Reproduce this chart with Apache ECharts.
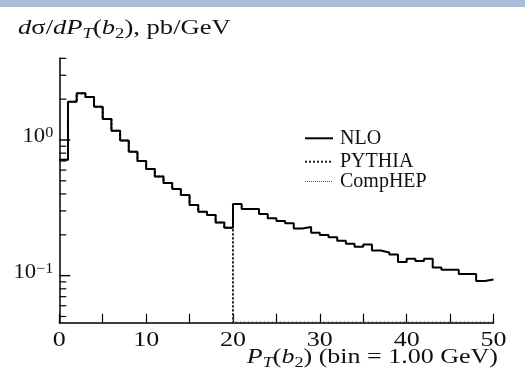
<!DOCTYPE html>
<html>
<head>
<meta charset="utf-8">
<script src="https://cdn.jsdelivr.net/npm/echarts@6/dist/echarts.min.js"></script>
<style>
html,body{margin:0;padding:0;background:#fff;}
#c{width:525px;height:383px;}
</style>
</head>
<body>
<div id="c"></div>
<script>
// ---- data ----
const binEdges = [0,1,2,3,4,5,6,7,8,9,10,11,12,13,14,15,16,17,18,19,20,21,22,23,24,25,26,27,28,29,30,31,32,33,34,35,36,37,38,39,40,41,42,43,44,45,46,47,48,49,50];
const nlo = [0.716, 1.91, 2.21, 2.07, 1.76, 1.43, 1.17, 0.99, 0.82, 0.70,
             0.61, 0.538, 0.482, 0.435, 0.393, 0.332, 0.296, 0.280, 0.246, 0.225,
             0.3375, 0.310, 0.310, 0.285, 0.265, 0.253, 0.243, 0.223, 0.2285, 0.2075,
             0.1995, 0.192, 0.181, 0.172, 0.1636, 0.170, 0.153, 0.148, 0.143, 0.126,
             0.133, 0.128, 0.133, 0.115, 0.1107, 0.1107, 0.103, 0.103, 0.0914, 0.0935];
const pythia = [0.716, 1.91, 2.21, 2.07, 1.76, 1.43, 1.17, 0.99, 0.82, 0.70,
             0.61, 0.538, 0.482, 0.435, 0.393, 0.332, 0.296, 0.280, 0.246, 0.225,
             0, 0, 0, 0, 0, 0, 0, 0, 0, 0,
             0, 0, 0, 0, 0, 0, 0, 0, 0, 0,
             0, 0, 0, 0, 0, 0, 0, 0, 0, 0];
const comphep = [0.716, 1.91, 2.21, 2.07, 1.76, 1.43, 1.17, 0.99, 0.82, 0.70,
             0.61, 0.538, 0.482, 0.435, 0.393, 0.332, 0.296, 0.280, 0.246, 0.225,
             0, 0, 0, 0, 0, 0, 0, 0, 0, 0,
             0, 0, 0, 0, 0, 0, 0, 0, 0, 0,
             0, 0, 0, 0, 0, 0, 0, 0, 0, 0];
const seriesNames = ['NLO', 'PYTHIA', 'CompHEP'];
const xTickLabels = [0, 10, 20, 30, 40, 50];
const yMajorTicks = [0.1, 1];
const yMajorExp = ['\u22121', '0'];
const yMinorTicks = [0.05,0.06,0.07,0.08,0.09,0.2,0.3,0.4,0.5,0.6,0.7,0.8,0.9,2,3,4];
const xMin = 0, xMax = 50, xInterval = 10;
const yMin = 0.045, yMax = 4;

// ---- build ----
const FONT = '"Liberation Serif", "Times New Roman", serif';
function stepData(vals){
  const d = vals.map((v,i)=>[binEdges[i], v > 0 ? v : yMin]);
  d.push([binEdges[vals.length], vals[vals.length-1] > 0 ? vals[vals.length-1] : yMin]);
  return d;
}
const richSub = {
  i:{fontFamily:FONT, fontStyle:'italic', fontSize:20, fill:'#111', lineHeight:24},
  r:{fontFamily:FONT, fontSize:20, fill:'#111', lineHeight:24},
  is:{fontFamily:FONT, fontStyle:'italic', fontSize:14, fill:'#111', verticalAlign:'bottom', lineHeight:14},
  rs:{fontFamily:FONT, fontSize:14, fill:'#111', verticalAlign:'bottom', lineHeight:14}
};

const chart = echarts.init(document.getElementById('c'), null, {renderer:'canvas'});
const option = {
  animation:false,
  backgroundColor:'#fff',
  grid:{left:59.3, right:31.5, top:58.3, bottom:60.3, containLabel:false},
  xAxis:{
    type:'value', min:xMin, max:xMax, interval:xInterval,
    axisLine:{show:true, lineStyle:{color:'#000', width:1.5}},
    axisTick:{show:true, inside:true, length:9, lineStyle:{color:'#000', width:1.2}},
    minorTick:{show:true, splitNumber:2, length:9, lineStyle:{color:'#000', width:1.2}},
    splitLine:{show:false},
    axisLabel:{show:false}
  },
  yAxis:{
    type:'log', logBase:10, min:yMin, max:yMax,
    axisLine:{show:true, lineStyle:{color:'#000', width:1.5}},
    axisTick:{show:false}, axisLabel:{show:false}, splitLine:{show:false}, minorTick:{show:false}
  },
  series:[
    {name:seriesNames[1], type:'line', step:'end', symbol:'none', data:stepData(pythia), clip:false,
     lineStyle:{color:'#222', width:2, type:[2,2]}, z:2},
    {name:seriesNames[2], type:'line', step:'end', symbol:'none', data:stepData(comphep), clip:false,
     lineStyle:{color:'#555', width:1, type:[1,1]}, z:2},
    {name:seriesNames[0], type:'line', step:'end', symbol:'none', data:stepData(nlo), clip:false,
     lineStyle:{color:'#000', width:2}, z:3},
    // y minor ticks
    {type:'custom', silent:true, z:4, clip:false,
     data:yMinorTicks.map(v=>[xMin, v]),
     renderItem:function(params, api){
       const p = api.coord([api.value(0), api.value(1)]);
       return {type:'line', shape:{x1:p[0], y1:p[1], x2:p[0]+7, y2:p[1]}, style:{stroke:'#000', lineWidth:1.2}};
     }},
    // y major ticks + labels
    {type:'custom', silent:true, z:4, clip:false,
     data:yMajorTicks.map((v,i)=>[xMin, v, i]),
     renderItem:function(params, api){
       const p = api.coord([api.value(0), api.value(1)]);
       const idx = api.value(2);
       return {type:'group', children:[
         {type:'line', shape:{x1:p[0], y1:p[1], x2:p[0]+11, y2:p[1]}, style:{stroke:'#000', lineWidth:1.4}},
         {type:'text', x:p[0]-6, y:p[1]-3, scaleX:1.08, style:{
            text:'{n|10}{s|'+yMajorExp[idx]+'}', align:'right', verticalAlign:'middle',
            rich:{n:{fontFamily:FONT, fontSize:21, fill:'#111', lineHeight:22},
                  s:{fontFamily:FONT, fontSize:15, fill:'#111', verticalAlign:'top', lineHeight:15}}
         }}
       ]};
     }},
    // x tick labels
    {type:'custom', silent:true, z:4, clip:false,
     data:xTickLabels.map(v=>[v, yMin]),
     renderItem:function(params, api){
       const p = api.coord([api.value(0), api.value(1)]);
       return {type:'text', x:p[0], y:p[1]+18, scaleX:1.3, style:{
         text:String(api.value(0)), align:'center', verticalAlign:'middle',
         fontFamily:FONT, fontSize:20, fill:'#111'}};
     }}
  ],
  graphic:[
    {type:'rect', left:0, top:0, shape:{x:0,y:0,width:525,height:7}, style:{fill:'#a9bcda'}, z:100},
    {type:'text', x:18, y:29, scaleX:1.33, style:{
      text:'{i|d}{r|σ/}{i|dP}{is|T}{r|(}{i|b}{rs|2}{r|), pb/GeV}', verticalAlign:'middle', align:'left',
      rich:richSub}, z:100},
    {type:'text', x:498, y:358, scaleX:1.3, style:{
      text:'{i|P}{is|T}{r|(}{i|b}{rs|2}{r|) (bin = 1.00 GeV)}', verticalAlign:'middle', align:'right',
      rich:richSub}, z:100},
    // legend
    {type:'line', shape:{x1:305, y1:138.3, x2:333, y2:138.3}, style:{stroke:'#000', lineWidth:2}, z:100},
    {type:'line', shape:{x1:305, y1:161.7, x2:333, y2:161.7}, style:{stroke:'#222', lineWidth:2, lineDash:[2,2]}, z:100},
    {type:'line', shape:{x1:305, y1:181.5, x2:333, y2:181.5}, style:{stroke:'#555', lineWidth:1, lineDash:[1,1]}, z:100},
    {type:'text', x:340, y:139, style:{text:seriesNames[0], fontFamily:FONT, fontSize:20, fill:'#111', verticalAlign:'middle'}, z:100},
    {type:'text', x:340, y:161.5, style:{text:seriesNames[1], fontFamily:FONT, fontSize:20, fill:'#111', verticalAlign:'middle'}, z:100},
    {type:'text', x:340, y:181.5, style:{text:seriesNames[2], fontFamily:FONT, fontSize:20, fill:'#111', verticalAlign:'middle'}, z:100}
  ]
};
chart.setOption(option);
</script>
</body>
</html>
